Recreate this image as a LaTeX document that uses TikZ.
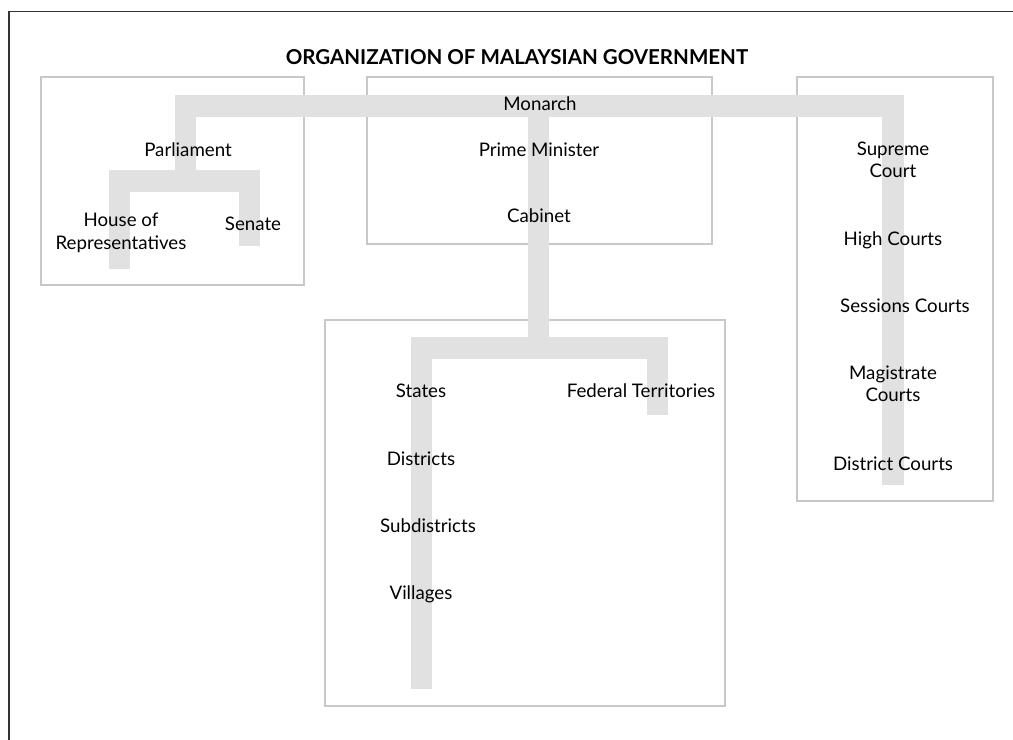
\documentclass[tikz,border=0pt]{standalone}
\usepackage{fontspec}
\setmainfont{Lato}
\usepackage{tikz}
\usetikzlibrary{positioning}

\definecolor{barfill}{RGB}{225,225,225}
\definecolor{boxline}{RGB}{200,200,200}

\tikzset{
  bar/.style={draw=barfill, line width=15pt, line join=miter},
  panel/.style={draw=boxline, line width=1.4pt},
  lbl/.style={font=\fontsize{13.3}{16}\selectfont, align=center, inner sep=1pt},
}

\begin{document}
\begin{tikzpicture}[x=0.025cm, y=-0.025cm]
		\useasboundingbox (0,0) rectangle (1013,740);

		% Outer frame and title
		\draw[black!80, line width=1.4pt] (9,740) -- (9,11.5) -- (1013,11.5);
		\node[font=\fontsize{14.6}{17}\selectfont\bfseries] (title) at (517,57) {ORGANIZATION OF MALAYSIAN GOVERNMENT};

		% Define panels
		\draw[panel] (41,77) rectangle (304,285);
		\draw[panel] (367,77) rectangle (712,244);
		\draw[panel] (797,77) rectangle (993,501);
		\draw[panel] (325,320) rectangle (725,706);

		% Bar corners
		\coordinate (lt) at (185.5,106);
		\coordinate (rt) at (893,106);
		\coordinate (mt) at (538.5,106);
		\coordinate (pj) at (185.5,181);
		\coordinate (hj) at (119.5,181);
		\coordinate (sj) at (249.5,181);
		\coordinate (hb) at (119.5,269);
		\coordinate (sb) at (249.5,246);
		\coordinate (cb) at (893,485);
		\coordinate (mj) at (538.5,348);
		\coordinate (lj) at (421.5,348);
		\coordinate (fj) at (657.5,348);
		\coordinate (lb) at (421.5,689);
		\coordinate (fb) at (657.5,415);

		% Connect the bars
		\draw[bar] (pj) -- (lt) -- (rt) -- (cb);
		\draw[bar] (hb) -- (hj) -- (sj) -- (sb);
		\draw[bar] (mt) -- (mj);
		\draw[bar] (lb) -- (lj) -- (fj) -- (fb);

		% Define nodes
		\node[lbl] (monarch) at (540,104) {Monarch};
		\node[lbl] (parl) at (188,150) {Parliament};
		\node[lbl] (house) at (121,233) {House of\\Representatives};
		\node[lbl] (senate) at (253,224) {Senate};
		\node[lbl] (pm) at (539,150) {Prime Minister};
		\node[lbl] (cabinet) at (539,216) {Cabinet};
		\node[lbl] (supreme) at (893,160) {Supreme\\Court};
		\node[lbl] (high) at (893,240) {High Courts};
		\node[lbl] (sessions) at (905,306) {Sessions Courts};
		\node[lbl] (magis) at (893,384) {Magistrate\\Courts};
		\node[lbl] (district) at (893,464) {District Courts};
		\node[lbl] (states) at (421,391) {States};
		\node[lbl] (federal) at (641,391) {Federal Territories};
		\node[lbl] (districts) at (421,459) {Districts};
		\node[lbl] (subdist) at (428,526) {Subdistricts};
		\node[lbl] (villages) at (421,594) {Villages};
	\end{tikzpicture}
\end{document}
